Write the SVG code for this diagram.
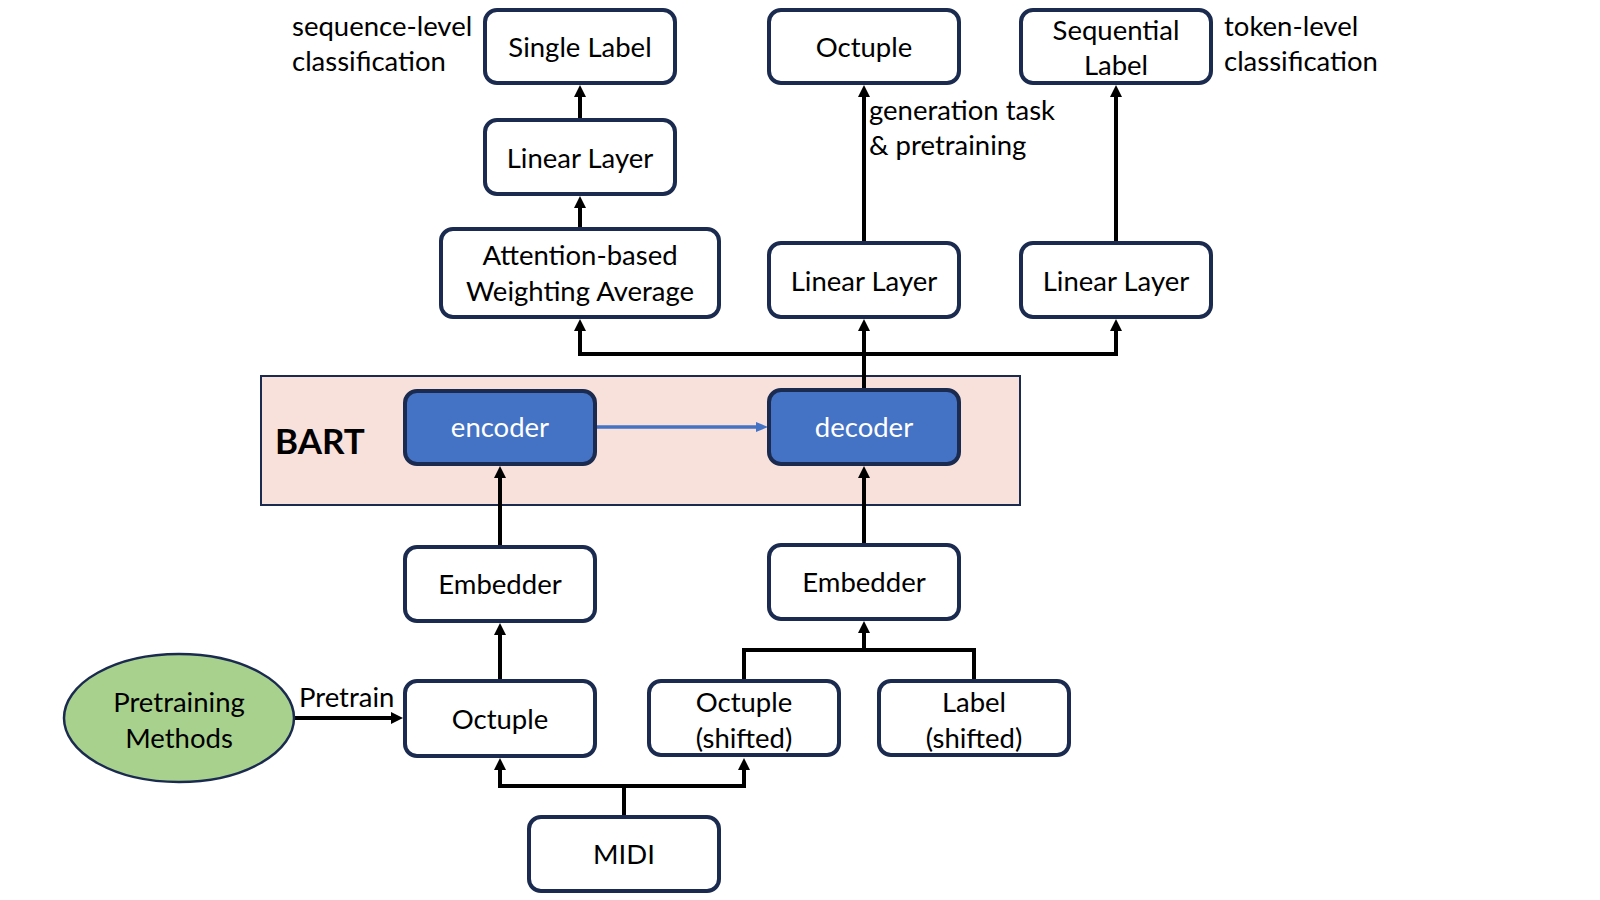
<svg xmlns="http://www.w3.org/2000/svg" width="1600" height="900" viewBox="0 0 1600 900">
<defs>
<marker id="ah" markerUnits="userSpaceOnUse" markerWidth="12" markerHeight="12" refX="0" refY="6" orient="auto" viewBox="0 0 12 12"><path d="M0,0 L12,6 L0,12 z" fill="#000"/></marker>
<marker id="ahb" markerUnits="userSpaceOnUse" markerWidth="12" markerHeight="10" refX="0" refY="5" orient="auto" viewBox="0 0 12 10"><path d="M0,0 L12,5 L0,10 z" fill="#4472C4"/></marker>
</defs>
<style>
.box{fill:#fff;stroke:#1b2b50;stroke-width:4}
.blue{fill:#4472C4;stroke:#1b2b50;stroke-width:4}
.t{font-family:Lato,"Liberation Sans",sans-serif;font-size:27.5px;fill:#000;text-anchor:middle}
.tl{font-family:Lato,"Liberation Sans",sans-serif;font-size:27.5px;fill:#000}
.tw{font-family:Lato,"Liberation Sans",sans-serif;font-size:27.5px;fill:#fff;text-anchor:middle}
.c{fill:none;stroke:#000;stroke-width:4}
.a{marker-end:url(#ah)}
</style>
<rect x="0" y="0" width="1600" height="900" fill="#fff"/>
<g id="bart">
<rect x="261" y="376" width="759" height="129" fill="#F8E1DB" stroke="#1b2b50" stroke-width="2"/>
<text x="275" y="454" font-family="Lato,'Liberation Sans',sans-serif" font-size="35" font-weight="bold" fill="#000">BART</text>
</g>
<g id="connectors">
<path class="c" d="M864,390 V354 H580 V331" marker-end="url(#ah)"/>
<path class="c a" d="M864,356 V331"/>
<path class="c a" d="M862,354 H1116 V331"/>
<path class="c a" d="M580,227 V208"/>
<path class="c a" d="M580,118 V97"/>
<path class="c a" d="M864,241 V97"/>
<path class="c a" d="M1116,241 V97"/>
<path d="M597,427 H756" fill="none" stroke="#4472C4" stroke-width="3.5" marker-end="url(#ahb)"/>
<path class="c a" d="M500,545 V478"/>
<path class="c a" d="M500,679 V635"/>
<path class="c a" d="M864,543 V478"/>
<path class="c" d="M744,679 V650 H974 V679"/>
<path class="c a" d="M864,652 V633"/>
<path class="c" d="M624,815 V786 H500 V770" marker-end="url(#ah)"/>
<path class="c a" d="M622,786 H744 V770"/>
<path class="c a" d="M294,718 H391"/>
<text class="tl" x="299" y="707">Pretrain</text>
<text class="tl" x="869" y="120">generation task</text>
<text class="tl" x="869" y="155">&amp; pretraining</text>
</g>
<g id="labels">
<text class="tl" x="292" y="36">sequence-level</text>
<text class="tl" x="292" y="71">classification</text>
<text class="tl" x="1224" y="36">token-level</text>
<text class="tl" x="1224" y="71">classification</text>
</g>
<g id="single-label"><rect class="box" x="485" y="10" width="190" height="73" rx="12"/><text class="t" x="580" y="57">Single Label</text></g>
<g id="linear-layer-1"><rect class="box" x="485" y="120" width="190" height="74" rx="12"/><text class="t" x="580" y="168">Linear Layer</text></g>
<g id="attention"><rect class="box" x="441" y="229" width="278" height="88" rx="12"/><text class="t" x="580" y="265">Attention-based</text><text class="t" x="580" y="301">Weighting Average</text></g>
<g id="octuple-top"><rect class="box" x="769" y="10" width="190" height="73" rx="12"/><text class="t" x="864" y="57">Octuple</text></g>
<g id="sequential-label"><rect class="box" x="1021" y="10" width="190" height="73" rx="12"/><text class="t" x="1116" y="40">Sequential</text><text class="t" x="1116" y="75">Label</text></g>
<g id="linear-layer-2"><rect class="box" x="769" y="243" width="190" height="74" rx="12"/><text class="t" x="864" y="291">Linear Layer</text></g>
<g id="linear-layer-3"><rect class="box" x="1021" y="243" width="190" height="74" rx="12"/><text class="t" x="1116" y="291">Linear Layer</text></g>
<g id="encoder"><rect class="blue" x="405" y="391" width="190" height="73" rx="12"/><text class="tw" x="500" y="437">encoder</text></g>
<g id="decoder"><rect class="blue" x="769" y="390" width="190" height="74" rx="12"/><text class="tw" x="864" y="437">decoder</text></g>
<g id="embedder-1"><rect class="box" x="405" y="547" width="190" height="74" rx="12"/><text class="t" x="500" y="594">Embedder</text></g>
<g id="embedder-2"><rect class="box" x="769" y="545" width="190" height="74" rx="12"/><text class="t" x="864" y="592">Embedder</text></g>
<g id="octuple-bottom"><rect class="box" x="405" y="681" width="190" height="75" rx="12"/><text class="t" x="500" y="729">Octuple</text></g>
<g id="octuple-shifted"><rect class="box" x="649" y="681" width="190" height="74" rx="12"/><text class="t" x="744" y="712">Octuple</text><text class="t" x="744" y="748">(shifted)</text></g>
<g id="label-shifted"><rect class="box" x="879" y="681" width="190" height="74" rx="12"/><text class="t" x="974" y="712">Label</text><text class="t" x="974" y="748">(shifted)</text></g>
<g id="midi"><rect class="box" x="529" y="817" width="190" height="74" rx="12"/><text class="t" x="624" y="864">MIDI</text></g>
<g id="pretraining-methods"><ellipse cx="179" cy="718" rx="115" ry="64" fill="#A9D18E" stroke="#1b2b50" stroke-width="2.5"/><text class="t" x="179" y="712">Pretraining</text><text class="t" x="179" y="748">Methods</text></g>
</svg>
